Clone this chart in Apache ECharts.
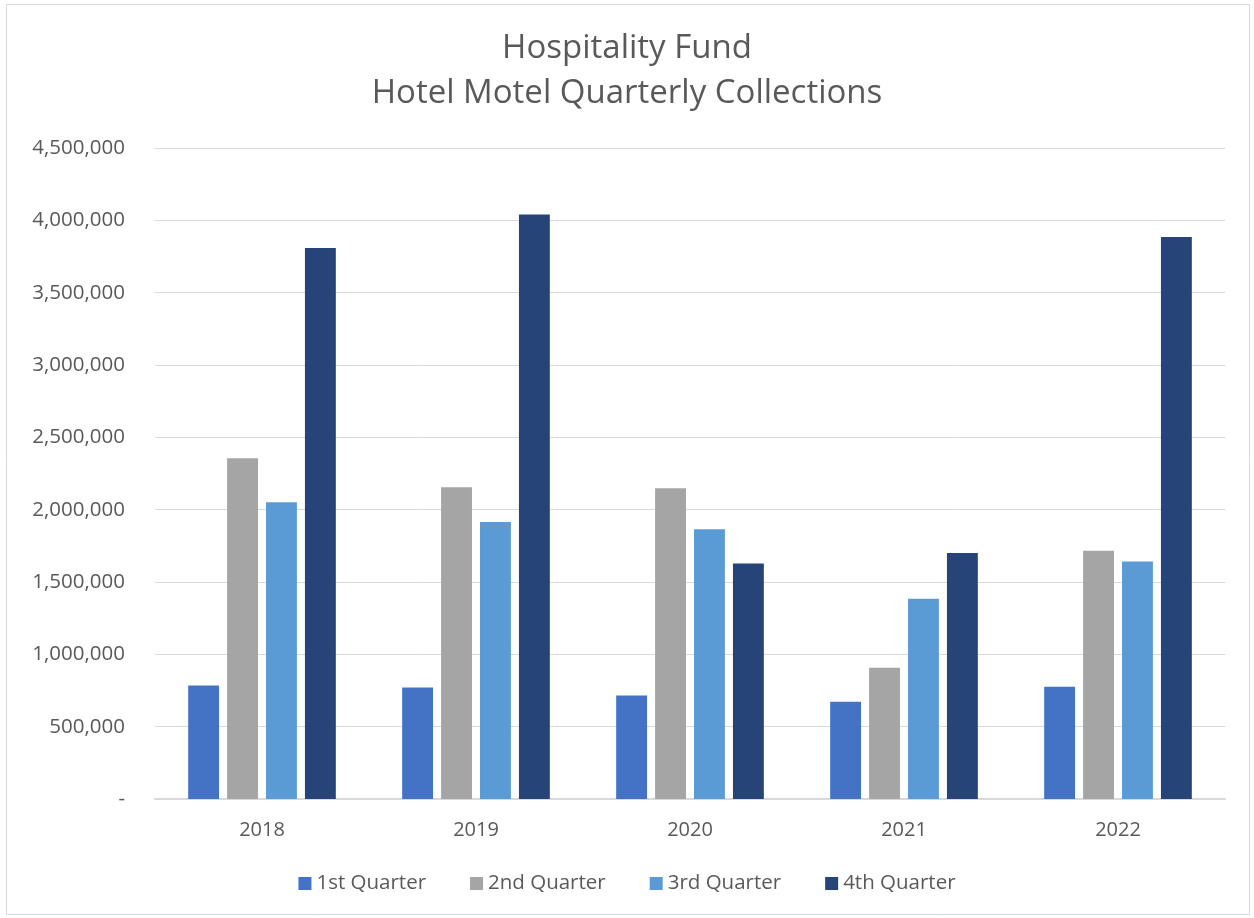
<!DOCTYPE html>
<html><head><meta charset="utf-8">
<script src="https://cdn.jsdelivr.net/npm/echarts@6/dist/echarts.min.js"></script>
<style>html,body{margin:0;padding:0;background:#fff}#c{width:1254px;height:918px}</style>
</head><body><div id="c"></div>
<script>
const years = ['2018','2019','2020','2021','2022'];
const q1 = [785000, 770000, 715000, 672000, 776000];
const q2 = [2355000, 2155000, 2148000, 908000, 1716000];
const q3 = [2052000, 1915000, 1865000, 1385000, 1642000];
const q4 = [3808000, 4040000, 1628000, 1700000, 3884000];
const seriesNames = ['1st Quarter','2nd Quarter','3rd Quarter','4th Quarter'];
const colors = ['#4472C4','#A5A5A5','#5B9BD5','#264478'];
const FONT = 'Open Sans';
const chart = echarts.init(document.getElementById('c'));
const fmt = v => v === 0 ? '-' : v.toLocaleString('en-US');
chart.setOption({
  animation:false,
  color: colors,
  title:{text:'Hospitality Fund\nHotel Motel Quarterly Collections', left:'center', top:21,
    textStyle:{fontFamily:FONT, fontSize:33, fontWeight:'normal', color:'#595959', lineHeight:45}},
  graphic:[{type:'rect', shape:{x:6.5,y:4.5,width:1243,height:910}, style:{fill:null, stroke:'#d9d9d9', lineWidth:1}}],
  legend:{bottom:19, left:'center', itemWidth:13, itemHeight:13, itemGap:44, icon:'rect',
    textStyle:{fontFamily:FONT, fontSize:20.5, color:'#595959'},
    data: seriesNames},
  grid:{left:155, right:29, top:148, bottom:119},
  xAxis:{type:'category', data:years,
    axisLine:{lineStyle:{color:'#d9d9d9', width:2}}, axisTick:{show:false},
    axisLabel:{fontFamily:FONT, fontSize:20, color:'#595959', margin:21}},
  yAxis:{type:'value', min:0, max:4500000, interval:500000,
    axisLine:{show:false}, axisTick:{show:false},
    splitLine:{lineStyle:{color:'#d9d9d9', width:1}},
    axisLabel:{fontFamily:FONT, fontSize:20.5, color:'#595959', margin:30, formatter:fmt}},
  series:[
    {name:seriesNames[0], type:'bar', data:q1, barGap:'26%', barCategoryGap:'31%'},
    {name:seriesNames[1], type:'bar', data:q2},
    {name:seriesNames[2], type:'bar', data:q3},
    {name:seriesNames[3], type:'bar', data:q4}
  ]
});
</script></body></html>
